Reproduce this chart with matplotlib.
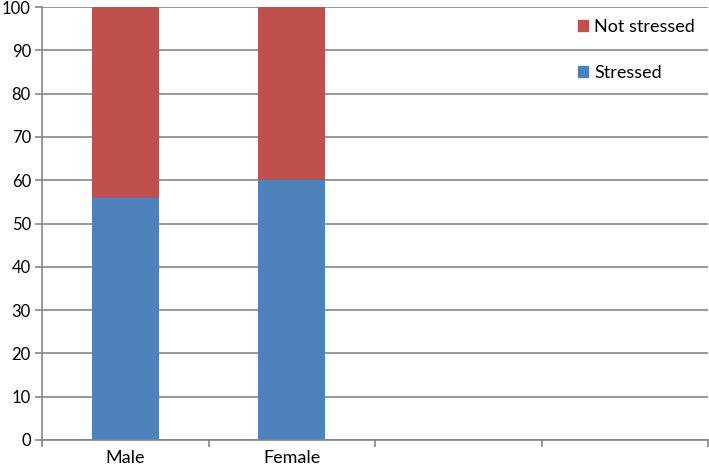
import numpy as np
from matplotlib import pyplot as plt
from matplotlib.patches import Patch

# data
categories = ["Male", "Female", "", ""]
stressed = [56, 60]
not_stressed = [44, 40]
series_names = ["Stressed", "Not stressed"]

BLUE = "#4F81BD"
RED = "#C0504D"
GRID = "#868686"

plt.rcParams['font.family'] = ['Lato', 'DejaVu Sans']

fig = plt.figure(figsize=(7.09, 4.70), dpi=100)
ax = fig.add_axes([42/709, 30/470, 666/709, 433/470])

x = np.arange(len(stressed))
ax.bar(x, stressed, width=0.4, color=BLUE, label=series_names[0])
ax.bar(x, not_stressed, width=0.4, bottom=stressed, color=RED, label=series_names[1])

ax.set_xlim(-0.5, len(categories) - 0.5)
ax.set_ylim(0, 100)
ax.set_yticks(np.arange(0, 101, 10))
ax.yaxis.grid(True, color=GRID, linewidth=1.2)
ax.set_axisbelow(True)

# category labels between boundary ticks
ax.set_xticks(np.arange(len(categories) + 1) - 0.5)
ax.set_xticklabels([])
ax.set_xticks(np.arange(len(categories)), minor=True)
ax.set_xticklabels(categories, minor=True)
ax.tick_params(axis='x', which='minor', length=0, labelsize=13, pad=7)
ax.tick_params(axis='x', which='major', length=5, color=GRID, width=1.2)
ax.tick_params(axis='y', length=5, color=GRID, width=1.2, labelsize=12, pad=3)

for s in ['top', 'right']:
    ax.spines[s].set_visible(False)
for s in ['left', 'bottom']:
    ax.spines[s].set_color(GRID)
    ax.spines[s].set_linewidth(1.2)

handles = [Patch(color=RED, label=series_names[1]), Patch(color=BLUE, label=series_names[0])]
ax.legend(handles=handles, loc='upper left', bbox_to_anchor=(0.78, 1.01),
          frameon=False, fontsize=13, handlelength=0.55, handleheight=0.55,
          handletextpad=0.35, labelspacing=1.65)

fig.savefig("out.png", dpi=100)
